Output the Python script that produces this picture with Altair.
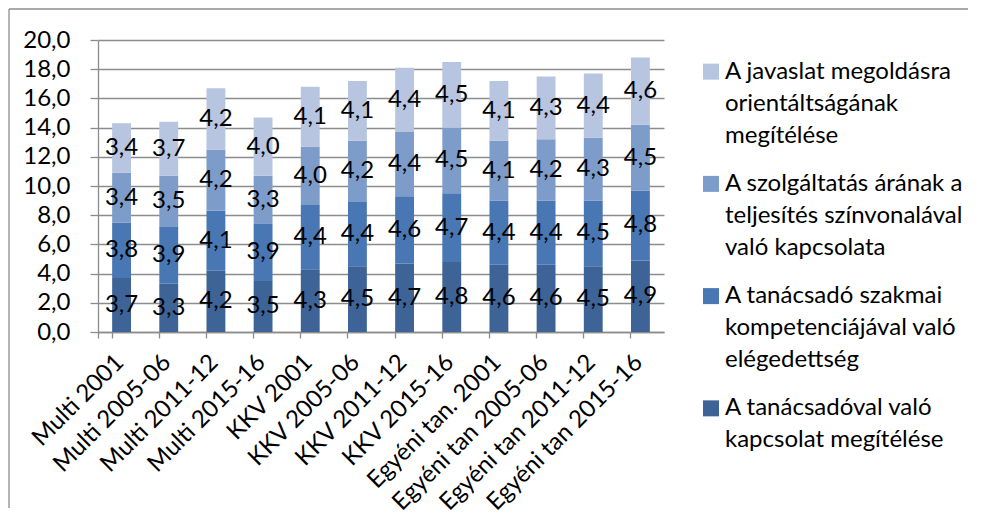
import altair as alt
import pandas as pd

categories = ["Multi 2001", "Multi 2005-06", "Multi 2011-12", "Multi 2015-16",
              "KKV 2001", "KKV 2005-06", "KKV 2011-12", "KKV 2015-16",
              "Egyéni tan. 2001", "Egyéni tan 2005-06", "Egyéni tan 2011-12", "Egyéni tan 2015-16"]

# series, bottom of stack first
series = [
    "A tanácsadóval való\nkapcsolat megítélése",
    "A tanácsadó szakmai\nkompetenciájával való\nelégedettség",
    "A szolgáltatás árának a\nteljesítés színvonalával\nvaló kapcsolata",
    "A javaslat megoldásra\norientáltságának\nmegítélése",
]
s_kapcsolat = [3.7, 3.3, 4.2, 3.5, 4.3, 4.5, 4.7, 4.8, 4.6, 4.6, 4.5, 4.9]
s_kompetencia = [3.8, 3.9, 4.1, 3.9, 4.4, 4.4, 4.6, 4.7, 4.4, 4.4, 4.5, 4.8]
s_ar = [3.4, 3.5, 4.2, 3.3, 4.0, 4.2, 4.4, 4.5, 4.1, 4.2, 4.3, 4.5]
s_javaslat = [3.4, 3.7, 4.2, 4.0, 4.1, 4.1, 4.4, 4.5, 4.1, 4.3, 4.4, 4.6]
colors = ["#3d6397", "#4877b3", "#7e9cc9", "#b7c5e0"]
y_ticks = [0, 2, 4, 6, 8, 10, 12, 14, 16, 18, 20]

rows = []
for si, (name, vals) in enumerate(zip(series, [s_kapcsolat, s_kompetencia, s_ar, s_javaslat])):
    for c, v in zip(categories, vals):
        rows.append({"cat": c, "series": name, "order": si, "value": v})
df = pd.DataFrame(rows)

legend_df = pd.DataFrame({"series": series[::-1]})

FONT = "Lato"
FS = 24
GRID = "#8c8c8c"
fmt = "replace(format(datum.value, '.1f'), '.', ',')"
color_scale = alt.Scale(domain=series[::-1], range=colors[::-1])

base = alt.Chart(df).transform_stack(
    stack="value", groupby=["cat"],
    sort=[alt.SortField("order", order="ascending")],
    as_=["v0", "v1"],
)

x_axis = alt.Axis(labelAngle=-45, labelAlign="right", labelBaseline="top",
                  bandPosition=0, tickExtra=True, tickSize=6, labelPadding=12,
                  labelOffset=-10, labelFont=FONT, labelFontSize=FS, labelColor="black",
                  domainColor=GRID, tickColor=GRID, domainWidth=1.3, tickWidth=1.3,
                  labelOverlap=False, labelLimit=400, grid=False)
x_scale = alt.Scale(paddingInner=0.6, paddingOuter=0.3)
y_axis = alt.Axis(values=y_ticks, labelExpr=fmt, grid=True, gridColor=GRID,
                  gridWidth=1.3, domainColor=GRID, domainWidth=1.3,
                  tickColor=GRID, tickWidth=1.3, tickSize=8, labelPadding=20,
                  labelOverlap=False, labelFont=FONT, labelFontSize=FS,
                  labelColor="black")
y_scale = alt.Scale(domain=[0, 20], nice=False)

bars = base.mark_bar().encode(
    x=alt.X("cat:N", sort=categories, title=None, scale=x_scale, axis=x_axis),
    y=alt.Y("v0:Q", title=None, scale=y_scale, axis=y_axis),
    y2="v1:Q",
    color=alt.Color("series:N", scale=color_scale, legend=None),
    order=alt.Order("order:Q"),
)

text = base.transform_calculate(
    mid="(datum.v0 + datum.v1) / 2",
    lbl=fmt,
).mark_text(font=FONT, fontSize=FS, color="black").encode(
    x=alt.X("cat:N", sort=categories, title=None, scale=x_scale, axis=x_axis),
    y=alt.Y("mid:Q", title=None, scale=y_scale, axis=y_axis),
    text="lbl:N",
)

frame_top = alt.Chart(pd.DataFrame({"b": [0]})).mark_rule(
    color=GRID, strokeWidth=1.3
).encode(x=alt.value(-89), x2=alt.value(870), y=alt.value(-31))
frame_left = alt.Chart(pd.DataFrame({"b": [0]})).mark_rule(
    color=GRID, strokeWidth=1.3
).encode(x=alt.value(-89), y=alt.value(-31), y2=alt.value(468))

main = alt.layer(bars, text, frame_top, frame_left).properties(width=566, height=292)

leg_y = alt.Y("series:N", sort=series[::-1], axis=None,
              scale=alt.Scale(type="point", padding=0.282))
leg_sym = alt.Chart(legend_df).mark_square(size=256, opacity=1).encode(
    x=alt.value(8), y=leg_y,
    color=alt.Color("series:N", scale=color_scale, legend=None),
)
leg_txt = alt.Chart(legend_df).transform_calculate(
    lines="split(datum.series, '\\n')"
).mark_text(font=FONT, fontSize=FS, color="black", align="left",
            baseline="line-top", lineHeight=32, dy=-16).encode(
    x=alt.value(22), y=leg_y, text="lines:N",
)
legend = alt.layer(leg_sym, leg_txt).properties(width=260, height=400)

chart = alt.hconcat(main, legend, spacing=39, bounds="flush").properties(
    padding=0
).configure(font=FONT).configure_view(stroke=None)

chart.save("out.html", embed_options={"renderer": "svg", "actions": False})
